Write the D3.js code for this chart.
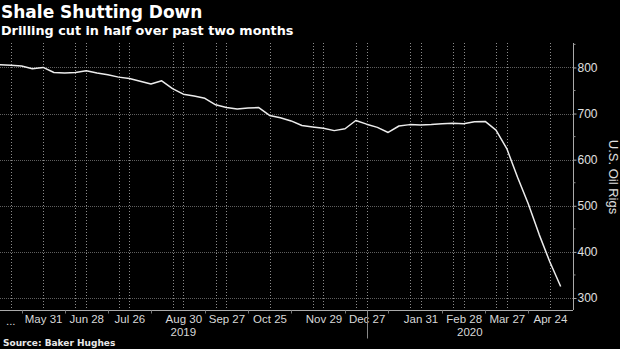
<!DOCTYPE html>
<html><head><meta charset="utf-8">
<script src="https://cdn.jsdelivr.net/npm/d3@7"></script>
<style>html,body{margin:0;padding:0;background:#000;} svg{display:block;}</style>
</head><body><svg id="c" width="620" height="349"></svg>
<script>
const weekDates = ["2019-05-03","2019-05-10","2019-05-17","2019-05-24","2019-05-31",
"2019-06-07","2019-06-14","2019-06-21","2019-06-28",
"2019-07-05","2019-07-12","2019-07-19","2019-07-26",
"2019-08-02","2019-08-09","2019-08-16","2019-08-23","2019-08-30",
"2019-09-06","2019-09-13","2019-09-20","2019-09-27",
"2019-10-04","2019-10-11","2019-10-18","2019-10-25",
"2019-11-01","2019-11-08","2019-11-15","2019-11-22","2019-11-29",
"2019-12-06","2019-12-13","2019-12-20","2019-12-27",
"2020-01-03","2020-01-10","2020-01-17","2020-01-24","2020-01-31",
"2020-02-07","2020-02-14","2020-02-21","2020-02-28",
"2020-03-06","2020-03-13","2020-03-20","2020-03-27",
"2020-04-03","2020-04-10","2020-04-17","2020-04-24","2020-05-01"];
const oilRigs = [806,805,803,797,800,
789,788,789,793,
788,784,779,776,
770,764,771,754,742,
738,733,719,713,
710,712,713,696,
691,684,674,671,668,
663,667,685,677,
670,659,673,676,675,
676,678,679,678,
682,683,664,624,
562,504,438,378,325];
const xTickDates = ["2019-05-31","2019-06-28","2019-07-26","2019-08-30","2019-09-27","2019-10-25",
"2019-11-29","2019-12-27","2020-01-31","2020-02-28","2020-03-27","2020-04-24"];
const xTickLabels = ["May 31","Jun 28","Jul 26","Aug 30","Sep 27","Oct 25",
"Nov 29","Dec 27","Jan 31","Feb 28","Mar 27","Apr 24"];
const truncatedLabel = "...";
const truncatedLabelDate = "2019-05-10";
const minorTickDates = ["2019-05-17","2019-06-14","2019-07-12","2019-08-09","2019-09-13","2019-10-11",
"2019-11-08","2019-12-13","2020-01-10","2020-02-14","2020-03-13","2020-04-10"];
const gridDates = ["2019-05-10","2019-05-31","2019-06-21","2019-06-28","2019-07-19","2019-07-26",
"2019-08-23","2019-08-30","2019-09-20","2019-09-27","2019-10-25","2019-11-22","2019-11-29",
"2019-12-20","2019-12-27","2020-01-24","2020-01-31","2020-02-21","2020-02-28",
"2020-03-20","2020-03-27","2020-04-24"];
const yearLabels = ["2019","2020"];
const yearLabelDates = ["2019-08-30","2020-03-03"];
const yearDividerDate = "2019-12-27";
const yMajorTicks = [300,400,500,600,700,800];
const yMinorTicks = [350,450,550,650,750,850];
const title = "Shale Shutting Down";
const subtitle = "Drilling cut in half over past two months";
const yTitle = "U.S. Oil Rigs";
const source = "Source: Baker Hughes";

const parse = d3.timeParse("%Y-%m-%d");
const W = 620, H = 349;
const plot = {left: 0, right: 573, top: 43, bottom: 310};
const svg = d3.select("#c");
svg.append("rect").attr("width", W).attr("height", H).attr("fill", "#000");

const x = d3.scaleTime()
  .domain([parse("2019-05-03"), parse("2020-05-09")])
  .range([plot.left, plot.right]);
const y = d3.scaleLinear().domain([274, 853]).range([plot.bottom, plot.top]);

const tickFont = "'Liberation Sans', Arial, sans-serif";
const boldFont = "'DejaVu Sans', sans-serif";
const gridColor = "#5e5e5e";

// horizontal grid
svg.append("g").attr("class", "hgrid").selectAll("line").data(yMajorTicks).join("line")
  .attr("x1", plot.left).attr("x2", plot.right)
  .attr("y1", d => Math.round(y(d)) + 0.5).attr("y2", d => Math.round(y(d)) + 0.5)
  .style("stroke", gridColor).style("stroke-width", "1px").style("stroke-dasharray", "1 1")
  .attr("shape-rendering", "crispEdges");
// vertical grid
svg.append("g").attr("class", "vgrid").selectAll("line").data(gridDates.map(parse)).join("line")
  .attr("x1", d => Math.round(x(d)) + 0.5).attr("x2", d => Math.round(x(d)) + 0.5)
  .attr("y1", plot.top).attr("y2", plot.bottom)
  .style("stroke", "#8c8c8c").style("stroke-width", "1px").style("stroke-dasharray", "1 2")
  .attr("shape-rendering", "crispEdges");

// data line
const pts = weekDates.map((d, i) => ({date: parse(d), v: oilRigs[i]}));
svg.append("path").datum(pts)
  .attr("fill", "none").attr("stroke", "#ececec").attr("stroke-width", 1.5)
  .attr("stroke-linejoin", "round")
  .attr("d", d3.line().x(d => x(d.date)).y(d => y(d.v)));

// y axis
const yAxis = d3.axisRight(y).tickValues(yMajorTicks).tickSize(3).tickPadding(1).tickFormat(d3.format("d"));
const gy = svg.append("g").attr("transform", `translate(${plot.right + 0.5},0)`).call(yAxis);
gy.select(".domain").attr("stroke", "#aaa");
gy.selectAll(".tick line").attr("stroke", "#aaa");
gy.selectAll(".tick text").attr("fill", "#e0e0e0").style("font-family", tickFont).style("font-size", "12px");
gy.append("g").selectAll("line").data(yMinorTicks).join("line")
  .attr("x1", 0).attr("x2", 2).attr("y1", d => y(d)).attr("y2", d => y(d)).attr("stroke", "#888");
gy.select(".domain").attr("d", `M0,${plot.top}V${plot.bottom}`);

// x axis
const xAxis = d3.axisBottom(x).tickValues(xTickDates.map(parse)).tickSize(0).tickPadding(4)
  .tickFormat((d, i) => xTickLabels[i]);
const gx = svg.append("g").attr("transform", `translate(0,${plot.bottom + 0.5})`).call(xAxis);
gx.select(".domain").attr("stroke", "#aaa").attr("d", `M${plot.left},0H${plot.right}`);
gx.selectAll(".tick text").attr("fill", "#d8d8d8").style("font-family", tickFont).style("font-size", "11.5px");
gx.append("g").selectAll("line").data(minorTickDates.map(parse)).join("line")
  .attr("x1", d => Math.round(x(d)) + 0.5).attr("x2", d => Math.round(x(d)) + 0.5)
  .attr("y1", 0).attr("y2", 3).attr("stroke", "#777");
gx.append("text").attr("x", x(parse(truncatedLabelDate))).attr("y", 14)
  .attr("text-anchor", "middle").attr("fill", "#d8d8d8")
  .style("font-family", tickFont).style("font-size", "11.5px").text(truncatedLabel);
gx.append("line")
  .attr("x1", Math.round(x(parse(yearDividerDate))) + 0.5).attr("x2", Math.round(x(parse(yearDividerDate))) + 0.5)
  .attr("y1", 0).attr("y2", 28).attr("stroke", "#888");
gx.append("g").selectAll("text").data(yearLabels).join("text")
  .attr("x", (d, i) => x(parse(yearLabelDates[i]))).attr("y", 25)
  .attr("text-anchor", "middle").attr("fill", "#d8d8d8")
  .style("font-family", tickFont).style("font-size", "11.5px").text(d => d);

// y title
svg.append("text").attr("transform", `translate(609,177) rotate(90)`)
  .attr("text-anchor", "middle").attr("fill", "#e0e0e0")
  .style("font-family", tickFont).style("font-size", "13px").text(yTitle);

// titles
svg.append("text").attr("x", 1).attr("y", 18).attr("fill", "#fff")
  .style("font-family", boldFont).style("font-weight", "bold").style("font-size", "17px").text(title);
svg.append("text").attr("x", 1).attr("y", 35).attr("fill", "#fff")
  .style("font-family", boldFont).style("font-weight", "bold").style("font-size", "12.8px").text(subtitle);
svg.append("text").attr("x", 3).attr("y", 346).attr("fill", "#e8e8e8")
  .style("font-family", boldFont).style("font-weight", "bold").style("font-size", "9px").text(source);
</script></body></html>
